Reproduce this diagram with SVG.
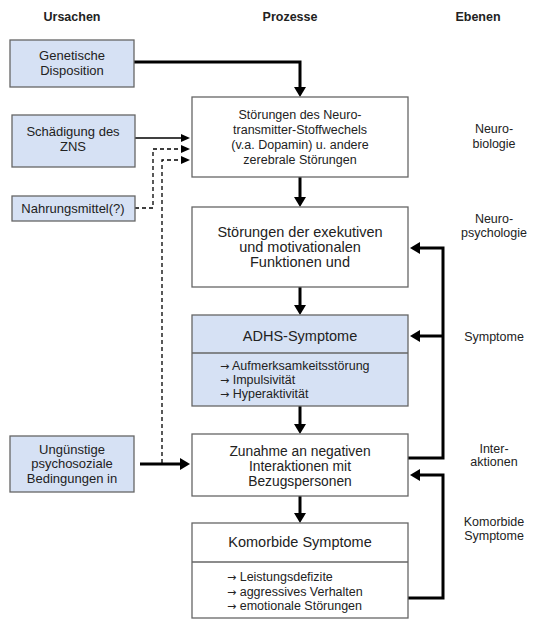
<svg xmlns="http://www.w3.org/2000/svg" width="533" height="630" viewBox="0 0 533 630">
<style>
text{font-family:"Liberation Sans",Arial,sans-serif;fill:#222;}
.hd{font-size:12.5px;font-weight:bold;text-anchor:middle;}
.c{text-anchor:middle;}
.s{font-size:13px;}
.i{font-size:12.5px;}
.ar{font-family:"DejaVu Sans",sans-serif;font-size:11px;}
.m{font-size:14.5px;}
.z{font-size:13.8px;}
.lv{font-size:12.5px;text-anchor:middle;}
.box{fill:#fff;stroke:#666;stroke-width:1.3;}
.blue{fill:#d6e1f4;stroke:#666;stroke-width:1.3;}
.thick{fill:none;stroke:#000;stroke-width:3;}
.thin{fill:none;stroke:#000;stroke-width:1.5;}
.dash{fill:none;stroke:#000;stroke-width:1.3;stroke-dasharray:4,3;}
</style>
<defs>
<marker id="ah" markerUnits="userSpaceOnUse" orient="auto" refX="1" refY="0" overflow="visible" markerWidth="12" markerHeight="12">
<path d="M0,-6 L10,0 L0,6 z" fill="#000"/>
</marker>
<marker id="as" markerUnits="userSpaceOnUse" orient="auto" refX="1" refY="0" overflow="visible" markerWidth="10" markerHeight="10">
<path d="M0,-4 L9,0 L0,4 z" fill="#000"/>
</marker>
</defs>
<g id="headers">
<text class="hd" x="72" y="21">Ursachen</text>
<text class="hd" x="290" y="21">Prozesse</text>
<text class="hd" x="478" y="21">Ebenen</text>
</g>
<g id="connectors">
<path class="thick" d="M134,62 H300 V88" marker-end="url(#ah)"/>
<path class="thin" d="M135,138 H182" marker-end="url(#as)"/>
<path class="dash" d="M135,208 H153 V149 H182" marker-end="url(#as)"/>
<path class="dash" d="M162,463 V160 H182" marker-end="url(#as)"/>
<path class="thick" d="M300,177 V198" marker-end="url(#ah)"/>
<path class="thick" d="M300,287 V306" marker-end="url(#ah)"/>
<path class="thick" d="M300,406 V425" marker-end="url(#ah)"/>
<path class="thick" d="M300,496 V514" marker-end="url(#ah)"/>
<path class="thick" d="M140,464 H181" marker-end="url(#ah)"/>
<path class="thick" d="M408,458 H443 V248 H419" marker-end="url(#ah)"/>
<path class="thick" d="M443,336 H419" marker-end="url(#ah)"/>
<path class="thick" d="M408,598 H443 V475 H419" marker-end="url(#ah)"/>
</g>
<g id="genetische">
<rect class="blue" x="10" y="40" width="124" height="47"/>
<text class="c s" x="72" y="60">Genetische</text>
<text class="c s" x="72" y="75">Disposition</text>
</g>
<g id="schaedigung">
<rect class="blue" x="12" y="115" width="123" height="52"/>
<text class="c s" x="73" y="136">Schädigung des</text>
<text class="c s" x="73" y="151">ZNS</text>
</g>
<g id="nahrung">
<rect class="blue" x="12" y="196" width="123" height="25"/>
<text class="c s" x="73" y="213">Nahrungsmittel(?)</text>
</g>
<g id="unguenstig">
<rect class="blue" x="10" y="436" width="124" height="56"/>
<text class="c s" x="72" y="454">Ungünstige</text>
<text class="c s" x="72" y="468">psychosoziale</text>
<text class="c s" x="72" y="483">Bedingungen in</text>
</g>
<g id="neurotransmitter">
<rect class="box" x="192" y="97" width="216" height="80"/>
<text class="c" font-size="12.5" x="300" y="119">Störungen des Neuro-</text>
<text class="c" font-size="12.5" x="300" y="134">transmitter-Stoffwechels</text>
<text class="c" font-size="12.5" x="300" y="149">(v.a. Dopamin) u. andere</text>
<text class="c" font-size="12.5" x="300" y="164">zerebrale Störungen</text>
</g>
<g id="exekutiv">
<rect class="box" x="192" y="207" width="216" height="80"/>
<text class="c m" x="300" y="237">Störungen der exekutiven</text>
<text class="c m" x="300" y="252">und motivationalen</text>
<text class="c m" x="300" y="267">Funktionen und</text>
</g>
<g id="adhs">
<rect class="blue" x="192" y="315" width="216" height="91"/>
<line x1="192" y1="353" x2="408" y2="353" stroke="#666" stroke-width="1.3"/>
<text class="c m" x="300" y="341">ADHS-Symptome</text>
<text class="i" x="220" y="370"><tspan class="ar">→</tspan> Aufmerksamkeitsstörung</text>
<text class="i" x="220" y="384"><tspan class="ar">→</tspan> Impulsivität</text>
<text class="i" x="220" y="398"><tspan class="ar">→</tspan> Hyperaktivität</text>
</g>
<g id="zunahme">
<rect class="box" x="192" y="434" width="216" height="62"/>
<text class="c z" x="300" y="456">Zunahme an negativen</text>
<text class="c z" x="300" y="471">Interaktionen mit</text>
<text class="c z" x="300" y="486">Bezugspersonen</text>
</g>
<g id="komorbid">
<rect class="box" x="192" y="523" width="216" height="95"/>
<line x1="192" y1="562" x2="408" y2="562" stroke="#666" stroke-width="1.3"/>
<text class="c m" x="300" y="547">Komorbide Symptome</text>
<text class="i" x="227" y="581"><tspan class="ar">→</tspan> Leistungsdefizite</text>
<text class="i" x="227" y="596"><tspan class="ar">→</tspan> aggressives Verhalten</text>
<text class="i" x="227" y="610"><tspan class="ar">→</tspan> emotionale Störungen</text>
</g>
<g id="ebenen">
<text class="lv" x="494" y="133">Neuro-</text>
<text class="lv" x="494" y="148">biologie</text>
<text class="lv" x="494" y="223">Neuro-</text>
<text class="lv" x="494" y="237">psychologie</text>
<text class="lv" x="494" y="341">Symptome</text>
<text class="lv" x="494" y="453">Inter-</text>
<text class="lv" x="494" y="466">aktionen</text>
<text class="lv" x="494" y="526">Komorbide</text>
<text class="lv" x="494" y="540">Symptome</text>
</g>
</svg>
